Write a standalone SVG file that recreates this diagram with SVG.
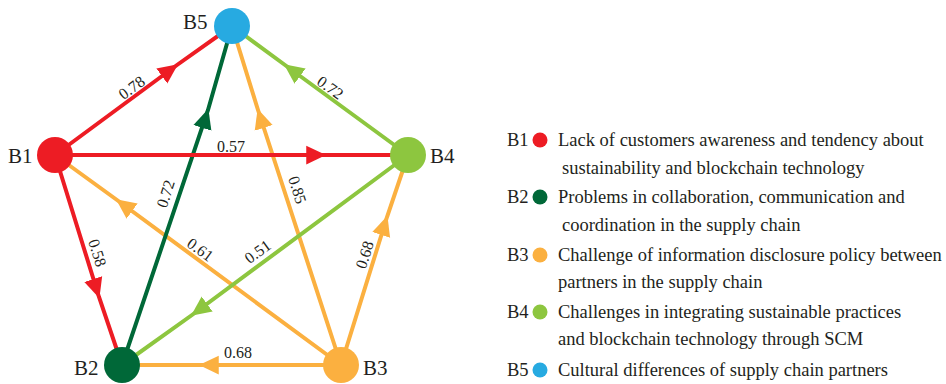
<svg xmlns="http://www.w3.org/2000/svg" width="946" height="384" viewBox="0 0 946 384">
<style>
.e{fill:none;stroke-width:4}
.r{stroke:#ED1C24}.g{stroke:#006838}.o{stroke:#FBB040}.l{stroke:#8DC63F}
.nl{font-family:"Liberation Serif",serif;font-size:21px;fill:#231f20}
.w{font-family:"Liberation Serif",serif;font-size:16px;fill:#231f20;text-anchor:middle}
.lg{font-family:"Liberation Serif",serif;font-size:18.5px;fill:#231f20}
</style>
<defs>
<marker id="ar" markerUnits="userSpaceOnUse" markerWidth="20" markerHeight="20" viewBox="0 -8 16 16" refX="15" refY="0" orient="auto"><path d="M0,-7.5L16,0L0,7.5z" fill="#ED1C24"/></marker>
<marker id="ag" markerUnits="userSpaceOnUse" markerWidth="20" markerHeight="20" viewBox="0 -8 16 16" refX="15" refY="0" orient="auto"><path d="M0,-7.5L16,0L0,7.5z" fill="#006838"/></marker>
<marker id="ao" markerUnits="userSpaceOnUse" markerWidth="20" markerHeight="20" viewBox="0 -8 16 16" refX="15" refY="0" orient="auto"><path d="M0,-7.5L16,0L0,7.5z" fill="#FBB040"/></marker>
<marker id="al" markerUnits="userSpaceOnUse" markerWidth="20" markerHeight="20" viewBox="0 -8 16 16" refX="15" refY="0" orient="auto"><path d="M0,-7.5L16,0L0,7.5z" fill="#8DC63F"/></marker>
</defs>
<rect width="946" height="384" fill="#ffffff"/>
<g id="connectors">
<path class="e o" marker-mid="url(#ao)" d="M341,365L117,200L55,155"/>
<path class="e o" marker-mid="url(#ao)" d="M341,365L258,110L232,26"/>
<path class="e o" marker-mid="url(#ao)" d="M341,365L387,217L408,155"/>
<path class="e o" marker-mid="url(#ao)" d="M341,365L200,365L122,365"/>
<path class="e l" marker-mid="url(#al)" d="M408,155L192,315L122,365"/>
<path class="e l" marker-mid="url(#al)" d="M408,155L285,65L232,26"/>
<path class="e g" marker-mid="url(#ag)" d="M122,365L208,110L232,26"/>
<path class="e r" marker-mid="url(#ar)" d="M55,155L177,65L232,26"/>
<path class="e r" marker-mid="url(#ar)" d="M55,155L325,155L408,155"/>
<path class="e r" marker-mid="url(#ar)" d="M55,155L99,297L122,365"/>
<text class="w" transform="translate(132,88) rotate(-36)" y="5">0.78</text>
<text class="w" x="231" y="152">0.57</text>
<text class="w" transform="translate(330,88) rotate(36)" y="5">0.72</text>
<text class="w" transform="translate(166,194) rotate(-72)" y="5">0.72</text>
<text class="w" transform="translate(297,190) rotate(72)" y="5">0.85</text>
<text class="w" transform="translate(97,253) rotate(72)" y="5">0.58</text>
<text class="w" transform="translate(200,250) rotate(36)" y="5">0.61</text>
<text class="w" transform="translate(258,252) rotate(-36)" y="5">0.51</text>
<text class="w" transform="translate(365,255) rotate(-72)" y="5">0.68</text>
<text class="w" x="238" y="358">0.68</text>
</g>
<g id="B1"><circle cx="55" cy="155" r="18" fill="#ED1C24"/><text class="nl" x="8" y="163">B1</text></g>
<g id="B2"><circle cx="122" cy="365" r="18" fill="#006838"/><text class="nl" x="74" y="375">B2</text></g>
<g id="B3"><circle cx="341" cy="365" r="18" fill="#FBB040"/><text class="nl" x="363" y="375">B3</text></g>
<g id="B4"><circle cx="408" cy="155" r="18" fill="#8DC63F"/><text class="nl" x="430" y="163">B4</text></g>
<g id="B5"><circle cx="232" cy="26" r="18" fill="#27AAE1"/><text class="nl" x="183" y="29">B5</text></g>
<g id="legend-B1"><text class="lg" x="507" y="146">B1</text><circle cx="540" cy="140" r="7.5" fill="#ED1C24"/><text class="lg" x="558" y="146">Lack of customers awareness and tendency about</text><text class="lg" x="562" y="174">sustainability and blockchain technology</text></g>
<g id="legend-B2"><text class="lg" x="507" y="203">B2</text><circle cx="540" cy="197" r="7.5" fill="#006838"/><text class="lg" x="558" y="203">Problems in collaboration, communication and</text><text class="lg" x="562" y="231">coordination in the supply chain</text></g>
<g id="legend-B3"><text class="lg" x="507" y="261">B3</text><circle cx="540" cy="255" r="7.5" fill="#FBB040"/><text class="lg" x="558" y="261">Challenge of information disclosure policy between</text><text class="lg" x="558" y="288">partners in the supply chain</text></g>
<g id="legend-B4"><text class="lg" x="507" y="318">B4</text><circle cx="540" cy="312" r="7.5" fill="#8DC63F"/><text class="lg" x="558" y="318">Challenges in integrating sustainable practices</text><text class="lg" x="558" y="345">and blockchain technology through SCM</text></g>
<g id="legend-B5"><text class="lg" x="507" y="376">B5</text><circle cx="540" cy="370" r="7.5" fill="#27AAE1"/><text class="lg" x="558" y="376">Cultural differences of supply chain partners</text></g>
</svg>
